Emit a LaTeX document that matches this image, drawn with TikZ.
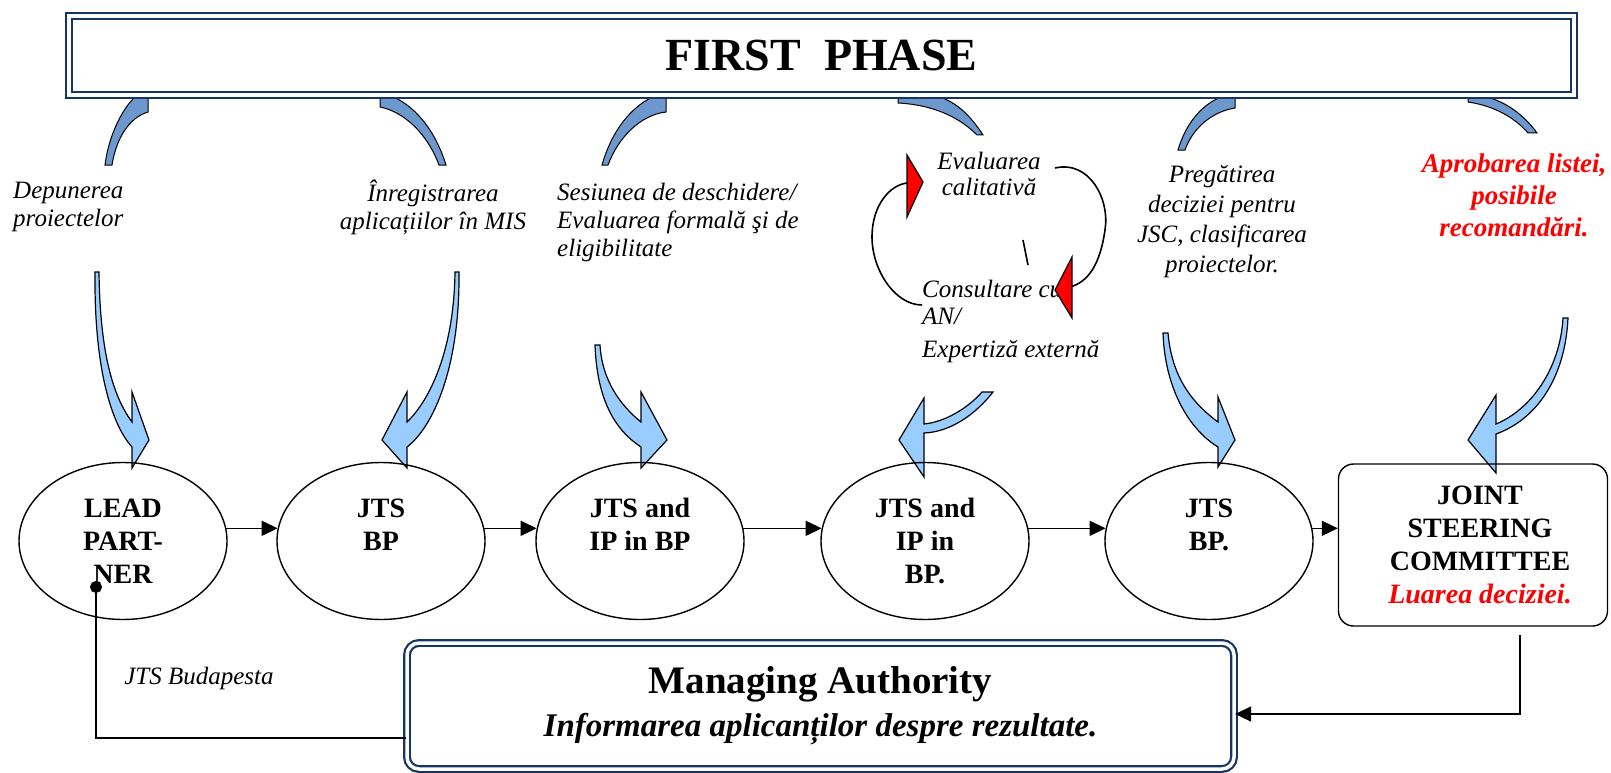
\documentclass[tikz,border=0pt]{standalone}
\usepackage{fontspec}
\setmainfont{Liberation Serif}
\usetikzlibrary{shapes.geometric,arrows.meta}
\definecolor{navy}{RGB}{22,52,102}
\definecolor{backblue}{RGB}{108,152,205}
\definecolor{frontblue}{RGB}{153,204,255}
\begin{document}
\begin{tikzpicture}[x=1pt, y=-1pt,
                    every node/.style={align=center, inner sep=0pt},
                    stage/.style={ellipse, draw, line width=1.4pt, minimum width=208pt, minimum height=157pt,
                                  font=\fontsize{28}{33}\selectfont\bfseries},
                    activity/.style={font=\fontsize{25}{28}\selectfont\itshape},
                    navyframe/.style={draw=navy, double=white, double distance=3.5pt, line width=2.2pt, fill=white},
                    backface/.style={fill=backblue, draw=black, line width=1pt},
                    frontface/.style={fill=frontblue, draw=black, line width=1.2pt},
                    flow/.style={-{Triangle[length=16pt,width=15pt]}, line width=1.5pt}]
  \useasboundingbox (0,0) rectangle (1611,773);
  \draw[backface] (137,95) .. controls (120,110) and (108,140) .. (105,165) -- (112,165) .. controls (116,140) and (128,118) .. (148,112) -- (148,95) -- cycle;
  \draw[backface] (380,95) -- (380,107) .. controls (405,112) and (428,135) .. (439,165) -- (446,165) .. controls (435,130) and (415,105) .. (389,95) -- cycle;
  \draw[backface] (666,95) -- (666,112) .. controls (640,115) and (618,138) .. (608,165) -- (602,165) .. controls (612,130) and (632,105) .. (657,95) -- cycle;
  \draw[backface] (898,95) -- (898,103) .. controls (935,105) and (960,118) .. (977,135) -- (983,135) .. controls (970,115) and (955,100) .. (933,95) -- cycle;
  \draw[backface] (1235,95) -- (1235,108) .. controls (1210,112) and (1192,130) .. (1185,150) -- (1178,150) .. controls (1186,122) and (1205,100) .. (1228,95) -- cycle;
  \draw[backface] (1468,95) -- (1468,102) .. controls (1495,106) and (1515,118) .. (1528,133) -- (1537,133) .. controls (1522,112) and (1500,98) .. (1477,95) -- cycle;
  \node[navyframe, minimum width=1505pt, minimum height=79pt, font=\fontsize{46}{50}\selectfont\bfseries] (first_phase) at (821.5,55.5) {FIRST\ \ PHASE};
  \draw[frontface] (95,272) .. controls (94,370) and (112,425) .. (132,447) -- (132,468) -- (149,440) -- (132,392) -- (132,422) .. controls (112,395) and (100,350) .. (99,272) -- cycle;
  \draw[frontface] (459,272) .. controls (460,370) and (432,428) .. (407,447) -- (407,468) -- (382,440) -- (407,392) -- (407,422) .. controls (430,400) and (454,350) .. (455,272) -- cycle;
  \draw[frontface] (595,345) .. controls (597,400) and (615,430) .. (641,447) -- (641,468) -- (667,440) -- (641,392) -- (641,422) .. controls (620,405) and (602,380) .. (600,345) -- cycle;
  \draw[frontface] (993,392) .. controls (975,415) and (950,432) .. (924,433) -- (924,477) -- (899,440) -- (924,398) -- (924,424) .. controls (945,422) and (968,408) .. (982,392) -- cycle;
  \draw[frontface] (1163,333) .. controls (1165,390) and (1190,430) .. (1218,447) -- (1218,467) -- (1235,440) -- (1218,397) -- (1218,422) .. controls (1195,405) and (1172,380) .. (1168,333) -- cycle;
  \draw[frontface] (1568,318) .. controls (1565,380) and (1535,420) .. (1496,434) -- (1496,473) -- (1468,440) -- (1496,395) -- (1496,424) .. controls (1530,410) and (1560,370) .. (1563,318) -- cycle;
  \node[activity, anchor=west, align=left] (depunerea) at (13,207) {Depunerea\\proiectelor};
  \node[activity] (inregistrarea) at (433,207) {Înregistrarea\\aplicațiilor în MIS};
  \node[activity, anchor=west, align=left] (sesiunea) at (557,222) {Sesiunea de deschidere/\\Evaluarea formală şi de\\eligibilitate};
  \node[activity, font=\fontsize{25}{26}\selectfont\itshape] (evaluarea) at (989,174) {Evaluarea\\calitativă};
  \node[activity, anchor=west, align=left, font=\fontsize{25}{27}\selectfont\itshape] (consultare) at (922,321) {Consultare cu\\AN/\\[6pt]Expertiză externă};
  \node[activity, font=\fontsize{25}{30}\selectfont\itshape] (pregatirea) at (1222,222) {Pregătirea\\deciziei pentru\\JSC, clasificarea\\proiectelor.};
  \node[activity, text=red, font=\fontsize{27}{32}\selectfont\bfseries\itshape] (aprobarea) at (1514,195) {Aprobarea listei,\\posibile\\recomandări.};
  \draw[line width=1.6pt] (1055,168) .. controls (1090,160) and (1110,200) .. (1105,230) .. controls (1100,265) and (1088,282) .. (1070,287);
  \draw[line width=1.6pt] (922,305) .. controls (895,305) and (872,270) .. (872,237) .. controls (872,205) and (890,185) .. (907,183);
  \draw[line width=1.6pt] (1023,240) -- (1028,265);
  \draw[fill=red, line width=1.2pt] (907,155) -- (907,217) -- (923,182) -- cycle;
  \draw[fill=red, line width=1.2pt] (1072,257) -- (1072,318) -- (1055,290) -- cycle;
  \node[stage] (lead_partner) at (123,541) {LEAD\\PART-\\NER};
  \node[stage] (jts_bp) at (381,541) {JTS\\BP\\\mbox{}};
  \node[stage] (jts_ip) at (640,541) {JTS and\\IP in BP\\\mbox{}};
  \node[stage] (jts_ip_bp) at (925,541) {JTS and\\IP in\\BP.};
  \node[stage] (jts_bp_final) at (1209,541) {JTS\\BP.\\\mbox{}};
  \node[draw, rounded corners=15pt, line width=1.4pt, minimum width=269pt, minimum height=162pt,
        font=\fontsize{28}{33}\selectfont\bfseries] (joint_steering_committee) at (1473,545)
        {\hspace{14pt}JOINT\\\hspace{14pt}STEERING\\\hspace{14pt}COMMITTEE\\\hspace{14pt}\textcolor{red}{\itshape Luarea deciziei.}};
  \node[navyframe, rounded corners=12pt, minimum width=827pt, minimum height=126pt,
        font=\fontsize{39}{43}\selectfont\bfseries] (managing_authority) at (820.5,706)
        {Managing Authority\\{\fontsize{33}{43}\selectfont\itshape Informarea aplicanților despre rezultate.}};
  \node[activity, font=\fontsize{25}{28}\selectfont\itshape] (jts_budapesta) at (199,678) {JTS Budapesta};
  \draw[flow] (lead_partner.7) -- (jts_bp.173);
  \draw[flow] (jts_bp.7) -- (jts_ip.173);
  \draw[flow] (jts_ip.7) -- (jts_ip_bp.173);
  \draw[flow] (jts_ip_bp.7) -- (jts_bp_final.173);
  \draw[flow] (jts_bp_final.7) -- (jts_bp_final.7 -| joint_steering_committee.west);
  \coordinate (jsc_out) at (1520,635);
  \coordinate (lp_dot) at (96,581);
  \draw[flow] (jsc_out) |- ([yshift=-8pt]managing_authority.east);
  \draw[{Circle[length=12pt]}-, line width=1.3pt] (lp_dot) |- ([yshift=-32pt]managing_authority.west);
\end{tikzpicture}
\end{document}
